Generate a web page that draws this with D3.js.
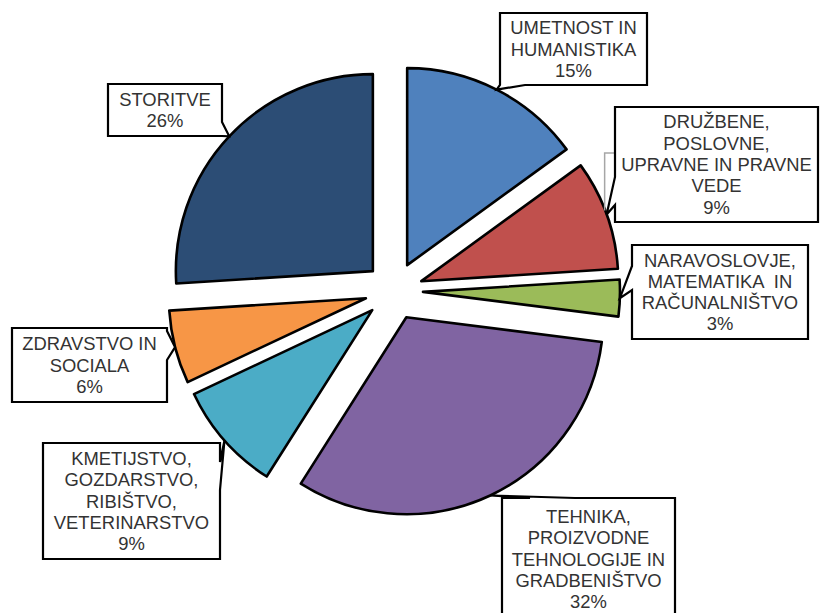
<!DOCTYPE html>
<html><head><meta charset="utf-8">
<script src="https://cdn.jsdelivr.net/npm/d3@7"></script>
<style>html,body{margin:0;padding:0;background:#fff;}</style>
</head><body>
<svg id="chart" width="821" height="613"></svg>
<script>
// ---- data ----
const categories = [
  ["UMETNOST IN", "HUMANISTIKA"],
  ["DRUŽBENE,", "POSLOVNE,", "UPRAVNE IN PRAVNE", "VEDE"],
  ["NARAVOSLOVJE,", "MATEMATIKA  IN", "RAČUNALNIŠTVO"],
  ["TEHNIKA,", "PROIZVODNE", "TEHNOLOGIJE IN", "GRADBENIŠTVO"],
  ["KMETIJSTVO,", "GOZDARSTVO,", "RIBIŠTVO,", "VETERINARSTVO"],
  ["ZDRAVSTVO IN", "SOCIALA"],
  ["STORITVE"]
];
const values = [15, 9, 3, 32, 9, 6, 26];
const colors = ["#4F81BD", "#C0504D", "#9BBB59", "#8064A2", "#4BACC6", "#F79646", "#2C4D75"];

// ---- layout ----
const cx = 394, cy = 291, R = 197, explode = 29;
const fontSize = 18.4, lineH = 21.3;
// callout boxes: [x, y, w, h], wedge side, wedge base [a, b]
const callouts = [
  {box: [500, 13, 147, 72],  side: "bottom", base: [525, 500]},
  {box: [615, 107, 203, 115], side: "left",  base: [205, 177], leader: true},
  {box: [632, 245, 176, 94],  side: "left",  base: [290, 266]},
  {box: [502, 498, 173, 122], side: "top",   base: [530, 575]},
  {box: [43, 443, 177, 116],  side: "right", base: [462, 490]},
  {box: [12, 328, 155, 74],   side: "right", base: [331, 360]},
  {box: [108, 84, 114, 52],   side: "right", base: [122, 136]}
];

const svg = d3.select("#chart");
const pie = d3.pie().sort(null).value(d => d)(values);
const arc = d3.arc().innerRadius(0).outerRadius(R);
const dir = a => [Math.sin(a), -Math.cos(a)];

const g = svg.append("g").attr("transform", `translate(${cx},${cy})`);
pie.forEach((p, i) => {
  const mid = (p.startAngle + p.endAngle) / 2;
  const [dx, dy] = dir(mid);
  p.ox = dx * explode; p.oy = dy * explode;
  p.tip = [cx + p.ox + dx * R, cy + p.oy + dy * R];
  g.append("path")
    .attr("d", arc(p))
    .attr("transform", `translate(${p.ox},${p.oy})`)
    .attr("fill", colors[i])
    .attr("stroke", "#000")
    .attr("stroke-width", 2.6)
    .attr("stroke-linejoin", "round");
});

// callouts
callouts.forEach((c, i) => {
  const [x, y, w, h] = c.box;
  const tip = pie[i].tip;
  const pct = Math.round(values[i] / d3.sum(values) * 100) + "%";
  if (c.leader) {
    svg.append("path")
      .attr("d", `M${x},153 H${tip[0] - 2} V${tip[1] - 4}`)
      .attr("fill", "none").attr("stroke", "#A6A6A6").attr("stroke-width", 1.5);
  }
  let pts;
  const [a, b] = c.base;
  if (c.side === "bottom")
    pts = [[x, y], [x + w, y], [x + w, y + h], [a, y + h], tip, [b, y + h], [x, y + h]];
  else if (c.side === "left")
    pts = [[x, y], [x + w, y], [x + w, y + h], [x, y + h], [x, a], tip, [x, b]];
  else if (c.side === "top")
    pts = [[x, y], [a, y], tip, [b, y], [x + w, y], [x + w, y + h], [x, y + h]];
  else
    pts = [[x, y], [x + w, y], [x + w, a], tip, [x + w, b], [x + w, y + h], [x, y + h]];
  svg.append("path")
    .attr("d", d3.line()(pts) + "Z")
    .attr("fill", "#fff").attr("stroke", "#000").attr("stroke-width", 2.2)
    .attr("stroke-linejoin", "miter");
  const lines = categories[i].concat([pct]);
  const n = lines.length;
  const midY = y + h / 2;
  const t = svg.append("text")
    .attr("font-family", "'Liberation Sans', Arial, sans-serif")
    .attr("font-size", fontSize)
    .attr("fill", "#333333")
    .attr("text-anchor", "middle");
  lines.forEach((s, k) => {
    t.append("tspan")
      .attr("x", x + w / 2)
      .attr("y", midY + (k - (n - 1) / 2) * lineH + 6.5)
      .attr("xml:space", "preserve")
      .text(s);
  });
});
</script>
</body></html>
